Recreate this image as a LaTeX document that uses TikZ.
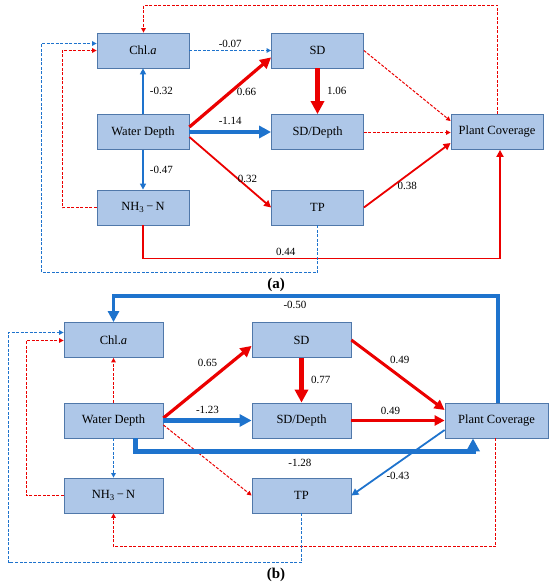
\documentclass[tikz,border=0pt]{standalone}
\usepackage{fontspec}
\setmainfont{Liberation Serif}
\usetikzlibrary{arrows.meta,calc}
\definecolor{boxfill}{RGB}{174,199,232}
\definecolor{boxline}{RGB}{80,120,170}
\definecolor{pathblue}{RGB}{30,115,205}
\definecolor{pathred}{RGB}{235,0,0}

\begin{document}
\begin{tikzpicture}[x=1pt,y=-1pt,
  var/.style={draw=boxline,fill=boxfill,line width=0.8pt,minimum width=92pt,minimum height=35pt,inner sep=0pt,font=\fontsize{12.5}{14}\selectfont},
  varb/.style={var,minimum width=99pt},
  coef/.style={font=\fontsize{11}{12}\selectfont,inner sep=1pt},
  plus/.style={draw=pathred},
  minus/.style={draw=pathblue},
  ns/.style={line width=1pt,dash pattern=on 3pt off 1.5pt},
  arr/.style={-{Triangle[length=#1,width=#1]}}]
\useasboundingbox (0,0) rectangle (550,588);

\node[var] (chl) at (143,50.5) {Chl.\textit{a}};
\node[var] (wd) at (143,132) {Water Depth};
\node[var] (nh) at (143,207.5) {NH\textsubscript{3}\,−\,N};
\node[var] (sd) at (317.5,50.5) {SD};
\node[var] (sdd) at (317.5,132) {SD/Depth};
\node[var] (tp) at (317.5,207.5) {TP};
\node[var] (pc) at (497,132) {Plant Coverage};

\draw[minus,line width=1.8pt,arr=6pt] (wd) -- (chl) node[coef,midway,right=5pt]{-0.32};
\draw[minus,line width=1.8pt,arr=6pt] (wd) -- (nh) node[coef,midway,right=5pt]{-0.47};
\draw[minus,ns,arr=4.5pt] (chl) -- (sd) node[coef,midway,above=1pt]{-0.07};
\draw[plus,line width=3.2pt,arr=11pt] ([yshift=5pt]wd.east) -- ([yshift=11pt]sd.south west) node[coef,pos=0.7,below=7pt]{0.66};
\draw[minus,line width=4.5pt,arr=12pt] (wd) -- (sdd) node[coef,midway,above=4pt]{-1.14};
\draw[plus,line width=1.8pt,arr=7pt] ([yshift=-5pt]wd.east) -- (tp.west) node[coef,pos=0.71,above=2pt]{0.32};
\draw[plus,line width=5pt,arr=13pt] (sd) -- (sdd) node[coef,midway,right=6pt]{1.06};
\draw[plus,ns,arr=4.5pt] (sd.east) -- ([yshift=11pt]pc.west);
\draw[plus,ns,arr=4.5pt] ([yshift=-0.5pt]sdd.east) -- ([yshift=-0.5pt]pc.west);
\draw[plus,line width=1.8pt,arr=7pt] (tp.east) -- ([yshift=-11pt]pc.west) node[coef,pos=0.5,below=5pt]{0.38};
\draw[plus,line width=1.8pt,arr=7pt] (nh.south) -- ++(0,33) -| ([xshift=3pt]pc.south) node[coef,pos=0.2,above=1pt]{0.44};
\draw[plus,ns,arr=4.5pt] ([xshift=0.5pt]pc.north) -- ++(0,-109) -| ([xshift=0.5pt]chl.north);
\draw[plus,ns,arr=4.5pt] (nh.west) -- ++(-34.5,0) |- (chl.west);
\draw[minus,ns,arr=4.5pt] (tp.south) -- ++(0,47.5) -- ++(-276,0) |- ([yshift=7pt]chl.west);

\node[font=\bfseries\fontsize{15}{16}\selectfont] (capa) at (276,285) {(a)};

\node[varb] (chl2) at (113.5,340) {Chl.\textit{a}};
\node[varb] (wd2) at (113.5,420.5) {Water Depth};
\node[varb] (nh2) at (113.5,495.5) {NH\textsubscript{3}\,−\,N};
\node[varb] (sd2) at (301.5,340) {SD};
\node[varb] (sdd2) at (301.5,420.5) {SD/Depth};
\node[varb] (tp2) at (301.5,495.5) {TP};
\node[varb,minimum width=103pt] (pc2) at (496.5,420.5) {Plant Coverage};

\draw[minus,line width=3.8pt,arr=11pt] ([xshift=1.5pt]pc2.north) -- ++(0,-107) -| (chl2.north) node[coef,pos=0.264,below=3pt]{-0.50};
\draw[plus,ns,arr=4.5pt] (wd2) -- (chl2);
\draw[minus,ns,arr=4.5pt] (wd2) -- (nh2);
\draw[plus,line width=3.2pt,arr=11pt] ([yshift=2.5pt]wd2.east) -- ([yshift=12pt]sd2.south west) node[coef,pos=0.5,above=13pt]{0.65};
\draw[minus,line width=4.2pt,arr=12pt] (wd2) -- (sdd2) node[coef,midway,above=4pt]{-1.23};
\draw[plus,ns,arr=4.5pt] ([yshift=-4.5pt]wd2.east) -- (tp2.west);
\draw[minus,line width=5pt,arr=13pt] ([xshift=21.5pt]wd2.south) -- ++(0,13) -| ([xshift=-23.5pt]pc2.south) node[coef,pos=0.244,below=4pt]{-1.28};
\draw[plus,line width=5pt,arr=13pt] (sd2) -- (sdd2) node[coef,midway,right=6pt]{0.77};
\draw[plus,line width=3pt,arr=10pt] (sd2.east) -- ([yshift=10.5pt]pc2.west) node[coef,pos=0.52,above=10pt]{0.49};
\draw[plus,line width=2.8pt,arr=10pt] (sdd2) -- (pc2) node[coef,pos=0.42,above=3pt]{0.49};
\draw[minus,line width=1.8pt,arr=7pt] ([yshift=-9.5pt]pc2.west) -- (tp2.east) node[coef,pos=0.5,below=8pt]{-0.43};
\draw[plus,ns,arr=4.5pt] ([xshift=-1pt]pc2.south) -- ++(0,108.5) -| (nh2.south);
\draw[plus,ns,arr=4.5pt] (nh2.west) -- ++(-37.5,0) |- ([yshift=-0.5pt]chl2.west);
\draw[minus,ns,arr=4.5pt] (tp2.south) -- ++(0,49.5) -- ++(-293,0) |- ([yshift=7.5pt]chl2.west);

\node[font=\bfseries\fontsize{15}{16}\selectfont] (capb) at (276,575) {(b)};
\end{tikzpicture}
\end{document}
